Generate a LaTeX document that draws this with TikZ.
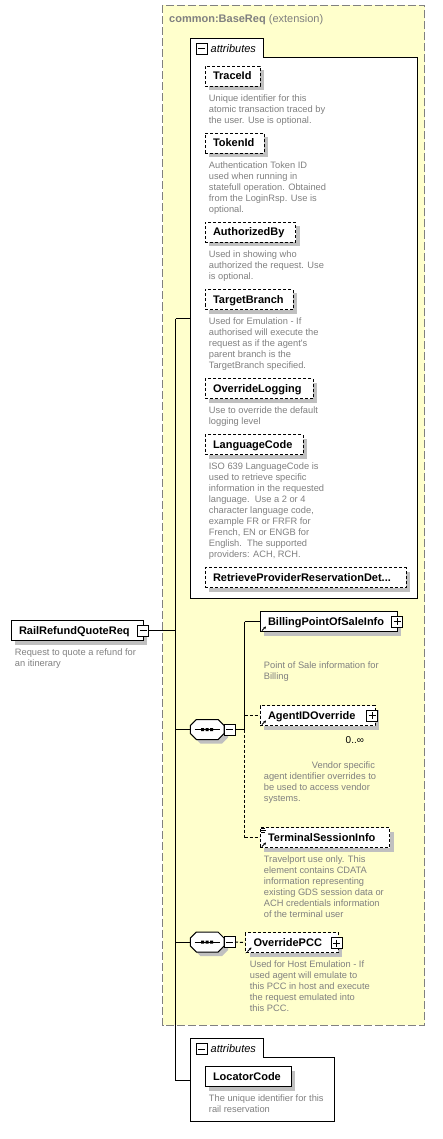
\documentclass[tikz,border=0pt]{standalone}
\usepackage{fontspec}
\setmainfont{Liberation Sans}
\usetikzlibrary{shadows,calc,arrows.meta}
\definecolor{ybg}{RGB}{255,255,204}
\definecolor{bordergray}{RGB}{128,128,128}
\definecolor{descgray}{RGB}{128,128,128}
\definecolor{shadowc}{RGB}{192,192,192}
\tikzset{
  elbox/.style={draw=black, fill=white, line width=1pt, anchor=west,
    minimum height=20pt, inner xsep=8pt, inner ysep=0pt,
    text height=8.5pt, text depth=1.5pt, align=left,
    font=\bfseries\fontsize{11}{13}\selectfont,
    drop shadow={opacity=1, fill=shadowc, shadow xshift=4pt, shadow yshift=-4pt}},
  optbox/.style={elbox, dash pattern=on 3pt off 2pt},
  desc/.style={anchor=north west, inner sep=0pt, align=left, text=descgray,
    font=\fontsize{9.3}{11}\selectfont},
  conn/.style={line width=1pt, draw=black},
  optconn/.style={conn, dash pattern=on 3pt off 2pt},
  attrbox/.style={draw=black, fill=white, line width=1pt},
  attrlbl/.style={anchor=base west, inner sep=0pt, font=\itshape\fontsize{11}{13}\selectfont},
  pics/minusicon/.style={code={
    \draw[line width=1pt, fill=white] (-5.5,-5.5) rectangle (5.5,5.5);
    \draw[line width=1pt] (-3.5,0) -- (3.5,0);}},
  pics/plusicon/.style={code={
    \draw[line width=1pt, fill=white] (-5.5,-5.5) rectangle (5.5,5.5);
    \draw[line width=1pt] (-3.5,0) -- (3.5,0) (0,-3.5) -- (0,3.5);}},
  pics/refarrow/.style={code={
    \draw[line width=0.9pt, -{Stealth[length=2.6pt,width=2.8pt]}] (0,0) -- (4,-4);}},
  pics/simpleicon/.style={code={
    \draw[line width=0.8pt] (0,0) -- (4,0) (0,1.8) -- (5,1.8) (0,3.6) -- (4,3.6);}},
  pics/seqcomp/.style={code={
    \begin{scope}[shift={(4,4)}]
      \fill[shadowc] (-10.85,-10) -- (10.85,-10) -- (16.85,-4) -- (16.85,4) -- (10.85,10)
        -- (-10.85,10) -- (-16.85,4) -- (-16.85,-4) -- cycle;
    \end{scope}
    \draw[line width=1pt, fill=white] (-10.85,-10) -- (10.85,-10) -- (16.85,-4) -- (16.85,4)
      -- (10.85,10) -- (-10.85,10) -- (-16.85,4) -- (-16.85,-4) -- cycle;
    \draw[line width=1pt] (-12.5,0) -- (12.5,0);
    \fill (-6,-1.5) rectangle (-3,1.5) (-1.5,-1.5) rectangle (1.5,1.5) (3,-1.5) rectangle (6,1.5);
    \pic at (22.3,0) {minusicon};}},
}
\begin{document}
\begin{tikzpicture}[x=1pt, y=-1pt]
\useasboundingbox (0,0) rectangle (442,1139);

% extension frame
\draw[draw=bordergray, fill=ybg, line width=1pt, dash pattern=on 8pt off 3pt]
  (162.5,5.5) rectangle (424.5,1025);
\node[anchor=base west, inner sep=0pt, text=bordergray, font=\fontsize{11}{13}\selectfont]
  (title) at (169,22.5) {\textbf{common:BaseReq} (extension)};

% bus coordinates
\coordinate (busT) at (175.5,318.5);
\coordinate (busB) at (175.5,1080.5);
\coordinate (attr1w) at (190.5,318.5);
\coordinate (attr2w) at (190.5,1080.5);
\coordinate (seq1w) at (190.4,729.5);
\coordinate (seq1e) at (235,729.5);
\coordinate (seq2w) at (190.4,942);
\coordinate (seq2e) at (235,942);
\coordinate (bus2T) at (244.5,621.5);
\coordinate (bus2M) at (244.5,729.5);
\coordinate (bus2B) at (244.5,837.5);

% attributes box 1
\draw[attrbox] (190.5,38.5) -- (263.5,38.5) -- (263.5,57.5) -- (417.5,57.5)
  -- (417.5,598.5) -- (190.5,598.5) -- cycle;
\pic at (201.5,49) {minusicon};
\node[attrlbl] (attr1lbl) at (210.5,52.5) {attributes};

% attributes box 2
\draw[attrbox] (190.5,1038.5) -- (263.5,1038.5) -- (263.5,1057.5) -- (334.5,1057.5)
  -- (334.5,1121.5) -- (190.5,1121.5) -- cycle;
\pic at (201.5,1049) {minusicon};
\node[attrlbl] (attr2lbl) at (210.5,1052.5) {attributes};

% connectors of root
\draw[conn] (busT) -- (busB);
\draw[conn] (busT) -- (attr1w);
\draw[conn] (busB) -- (attr2w);
\draw[conn] (busT |- seq1w) -- (seq1w);
\draw[conn] (busT |- seq2w) -- (seq2w);
\draw[conn] (143,630.5) -- (175.5,630.5);

% attributes of BaseReq
\node[optbox, text width=39pt] (trace) at (204.5,76.5) {TraceId};
\node[desc] (tracedesc) at (208.7,94.7) {\rule{0pt}{7pt}Unique identifier for this\\atomic transaction traced by\\the user. Use is optional.};

\node[optbox, text width=43pt] (token) at (204.5,143.5) {TokenId};
\node[desc] (tokendesc) at (208.7,161.7) {\rule{0pt}{7pt}Authentication Token ID\\used when running in\\statefull operation. Obtained\\from the LoginRsp. Use is\\optional.};

\node[optbox, text width=74.5pt] (authby) at (204.5,232.5) {AuthorizedBy};
\node[desc] (authbydesc) at (208.7,250.7) {\rule{0pt}{7pt}Used in showing who\\authorized the request. Use\\is optional.};

\node[optbox, text width=72pt] (target) at (204.5,299.5) {TargetBranch};
\node[desc] (targetdesc) at (208.7,317.7) {\rule{0pt}{7pt}Used for Emulation - If\\authorised will execute the\\request as if the agent\textquotesingle s\\parent branch is the\\TargetBranch specified.};

\node[optbox, text width=92pt] (ovlog) at (204.5,388.5) {OverrideLogging};
\node[desc] (ovlogdesc) at (208.7,406.7) {\rule{0pt}{7pt}Use to override the default\\logging level};

\node[optbox, text width=82pt] (lang) at (204.5,444.5) {LanguageCode};
\node[desc] (langdesc) at (208.7,462.7) {\rule{0pt}{7pt}ISO 639 LanguageCode is\\used to retrieve specific\\information in the requested\\language.\ \ Use a 2 or 4\\character language code,\\example FR or FRFR for\\French, EN or ENGB for\\English.\ \ The supported\\providers: ACH, RCH.};

\node[optbox, text width=185pt] (retr) at (204.5,577.5) {RetrieveProviderReservationDet...};

% root element
\node[elbox, text width=116pt] (root) at (10.5,630.5) {RailRefundQuoteReq};
\pic at (143,630.5) {minusicon};
\node[desc] (rootdesc) at (14.7,648.7) {\rule{0pt}{7pt}Request to quote a refund for\\an itinerary};

% first sequence
\draw[conn] (seq1e) -- (bus2M);
\draw[conn] (bus2T) -- (bus2M);
\draw[optconn] (bus2M) -- (bus2B);
\pic at (207.2,729.5) {seqcomp};

\node[elbox, text width=121pt] (billing) at (259.5,621.5) {BillingPointOfSaleInfo};
\draw[conn] (bus2T) -- (billing.west);
\pic at (397,621.5) {plusicon};
\pic at ($(billing.south west)+(2.5,-1.5)$) {refarrow};
\node[desc] (billingdesc) at (263.7,661.7) {\rule{0pt}{7pt}Point of Sale information for\\Billing};

\node[optbox, text width=99pt] (agent) at (259.5,715.5) {AgentIDOverride};
\draw[optconn] (bus2T |- agent.west) -- (agent.west);
\pic at (372,715.5) {plusicon};
\pic at ($(agent.south west)+(2.5,-1.5)$) {refarrow};
\node[anchor=base west, inner sep=0pt, font=\fontsize{10}{12}\selectfont] (agentmult) at (345.5,743) {0..∞};
\node[desc] (agentdesc) at (263.7,761.7) {\rule{0pt}{7pt}\hspace*{48pt}Vendor specific\\agent identifier overrides to\\be used to access vendor\\systems.};

\node[optbox, text width=113.5pt] (term) at (259.5,837.5) {TerminalSessionInfo};
\draw[optconn] (bus2B) -- (term.west);
\pic at ($(term.north west)+(1.8,1.8)$) {simpleicon};
\pic at ($(term.south west)+(2.5,-1.5)$) {refarrow};
\node[desc] (termdesc) at (263.7,855.3) {\rule{0pt}{7pt}Travelport use only. This\\element contains CDATA\\information representing\\existing GDS session data or\\ACH credentials information\\of the terminal user};

% second sequence
\pic at (207.2,942) {seqcomp};
\node[optbox, text width=76.5pt] (ovpcc) at (245,942.5) {OverridePCC};
\draw[optconn] (seq2e) -- (ovpcc.west);
\pic at (336.5,943) {plusicon};
\pic at ($(ovpcc.south west)+(2.5,-1.5)$) {refarrow};
\node[desc] (ovpccdesc) at (249.7,960.7) {\rule{0pt}{7pt}Used for Host Emulation - If\\used agent will emulate to\\this PCC in host and execute\\the request emulated into\\this PCC.};

% attribute of root
\node[elbox, text width=70pt] (locator) at (204.5,1076.5) {LocatorCode};
\node[desc] (locatordesc) at (208.7,1094.7) {\rule{0pt}{7pt}The unique identifier for this\\rail reservation};
\end{tikzpicture}
\end{document}
